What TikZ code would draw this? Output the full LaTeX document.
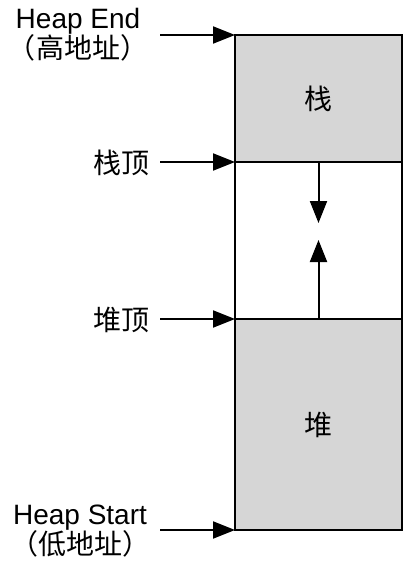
\documentclass[tikz,border=0pt]{standalone}
\usepackage{fontspec}
\setmainfont{Liberation Sans}
\newfontfamily\cjk{Noto Sans CJK SC}
\usetikzlibrary{positioning,arrows.meta}
\definecolor{seggray}{RGB}{214,214,214}
\tikzset{%
  memseg/.style={draw, line width=2pt, rectangle, inner sep=0pt, outer sep=0pt,
    minimum width=167pt},% memory segment
  usedseg/.style={memseg, fill=seggray},
  addrtext/.style={inner sep=0pt, align=center, font=\fontsize{28}{30}\selectfont},
  ptr/.style={line width=2pt, -{Triangle[length=22pt,width=17pt]}},% address pointer
  growth/.style={ptr}% growth direction
}
\begin{document}
\begin{tikzpicture}[x=1pt,y=-1pt]
\useasboundingbox (0,0) rectangle (417,572);

\node[usedseg, minimum height=127pt] (stack) at (318.5, 98.5) {};
\node[memseg, minimum height=157pt] (gap) at (318.5, 240.5) {};
\node[usedseg, minimum height=211pt] (heap) at (318.5, 424.5) {};
\node[addrtext] (stacktxt) at (stack.center) {\cjk 栈};
\node[addrtext] (heaptxt) at (heap.center) {\cjk 堆};

\node[addrtext] (endtxt) at (78, 35) {Heap End\\{\cjk （高地址）}};
\node[addrtext] (stacktop) at (121, 163) {\cjk 栈顶};
\node[addrtext] (heaptop) at (121, 320) {\cjk 堆顶};
\node[addrtext] (starttxt) at (80, 531) {Heap Start\\{\cjk （低地址）}};

\coordinate (endtail) at (160, 35);
\coordinate (stacktail) at (160, 162);
\coordinate (heaptail) at (160, 319);
\coordinate (starttail) at (160, 530);
\draw[ptr] (endtail) -- (stack.north west);
\draw[ptr] (stacktail) -- (stack.south west);
\draw[ptr] (heaptail) -- (heap.north west);
\draw[ptr] (starttail) -- (heap.south west);

\coordinate (downtip) at (318.5, 223);
\coordinate (uptip) at (318.5, 240);
\draw[growth] (stack.south) -- (downtip);
\draw[growth] (heap.north) -- (uptip);
\end{tikzpicture}
\end{document}
